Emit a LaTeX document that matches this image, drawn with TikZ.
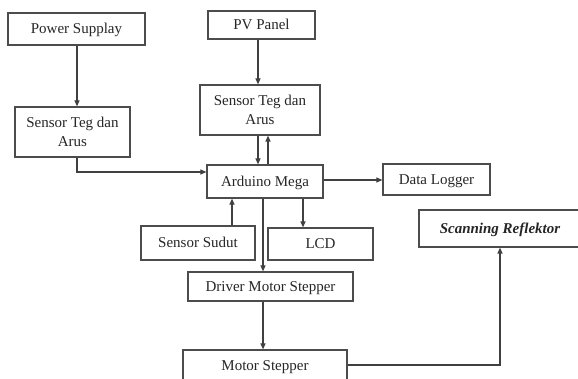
\documentclass[tikz,border=0pt]{standalone}
\usepackage{fontspec}
\setmainfont{Liberation Serif}
\usetikzlibrary{arrows.meta}
\tikzset{
  blk/.style={draw=black!70, line width=1.2pt, fill=white, inner sep=0pt, font=\fontsize{15}{19}\selectfont, text=black!85, text height=12.5pt, text depth=2.5pt},
  blk2/.style={draw=black!70, line width=1.2pt, fill=white, inner sep=0pt, align=center, font=\fontsize{15}{19}\selectfont, text=black!85},
  arr/.style={draw=black!75, line width=1.1pt, -{Triangle[length=6pt,width=5pt]}},
}
\begin{document}
\begin{tikzpicture}[x=1pt,y=-1pt]
\useasboundingbox (0,0) rectangle (578,379);
\clip (0,0) rectangle (578,379);
\fill[white] (0,0) rectangle (578,379);

\node[blk, minimum width=137pt, minimum height=32pt] (ps) at (76.5,29) {Power Supplay};
\node[blk, minimum width=107pt, minimum height=28pt] (pv) at (261.5,25) {PV Panel};
\node[blk2, minimum width=115pt, minimum height=50pt] (sl) at (72.5,132) {Sensor Teg dan\\Arus};
\node[blk2, minimum width=120pt, minimum height=50pt] (sr) at (260,110) {Sensor Teg dan\\Arus};
\node[blk, minimum width=116pt, minimum height=33pt] (ard) at (265,181.5) {Arduino Mega};
\node[blk, minimum width=107pt, minimum height=31pt] (dl) at (436.5,179.5) {Data Logger};
\node[blk, minimum width=162pt, minimum height=37pt] (sc) at (500,228.5) {\bfseries\itshape Scanning Reflektor};
\node[blk, minimum width=114pt, minimum height=34pt] (ss) at (198,243) {Sensor Sudut};
\node[blk, minimum width=105pt, minimum height=32pt] (lcd) at (320.5,244) {LCD};
\node[blk, minimum width=165pt, minimum height=29pt] (drv) at (270.5,286.5) {Driver Motor Stepper};
\node[blk, minimum width=164pt, minimum height=31pt] (ms) at (265,365.5) {Motor Stepper};

\draw[arr] (77,0 |- ps.south) -- (77,0 |- sl.north);
\draw[arr] (258,0 |- pv.south) -- (258,0 |- sr.north);
\draw[arr] (258,0 |- sr.south) -- (258,0 |- ard.north);
\draw[arr] (268,0 |- ard.north) -- (268,0 |- sr.south);
\draw[arr] (77,0 |- sl.south) |- (ard.west |- 0,172);
\draw[arr] (ard.east |- 0,180) -- (dl.west |- 0,180);
\draw[arr] (232,0 |- ss.north) -- (232,0 |- ard.south);
\draw[arr] (303,0 |- ard.south) -- (303,0 |- lcd.north);
\draw[arr] (263,0 |- ard.south) -- (263,0 |- drv.north);
\draw[arr] (263,0 |- drv.south) -- (263,0 |- ms.north);
\draw[arr] (ms.east |- 0,365) -| (500,0 |- sc.south);
\end{tikzpicture}
\end{document}
